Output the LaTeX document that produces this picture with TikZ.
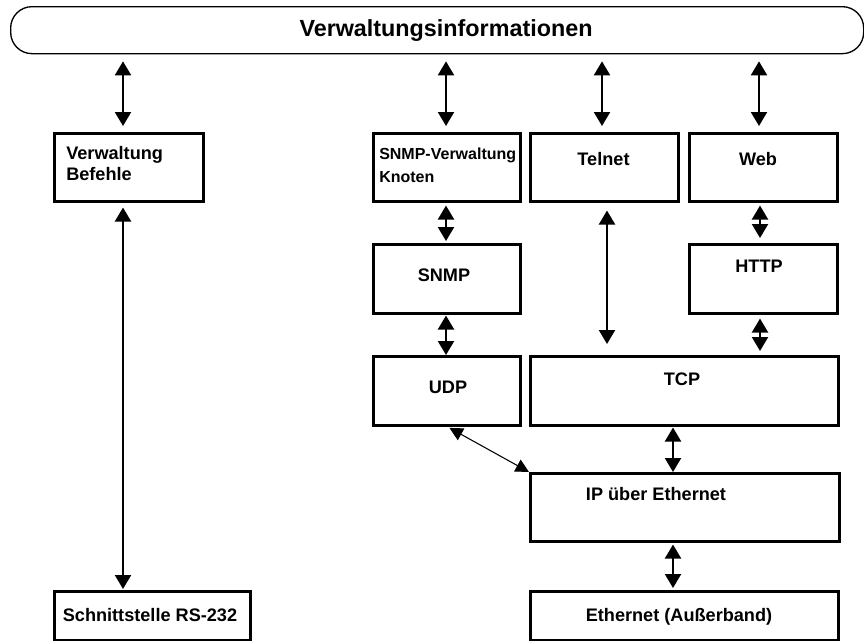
\documentclass[tikz,border=0pt]{standalone}
\usepackage{fontspec}
\setmainfont{Liberation Sans}
\usetikzlibrary{arrows.meta,calc}

\tikzset{
  layer/.style={draw, line width=1.9pt, inner sep=0pt, anchor=north west},
  bi/.style={line width=1.6pt,
    {Triangle[length=10.5pt,width=12pt]}-{Triangle[length=10.5pt,width=12pt]}},
  thinbi/.style={line width=0.8pt,
    {Triangle[length=10pt,width=10pt]}-{Triangle[length=10pt,width=10pt]}},
  txt/.style={font=\fontsize{13.6}{15.75}\selectfont\bfseries, inner sep=0pt, anchor=base},
  smalltxt/.style={font=\fontsize{12}{17.25}\selectfont\bfseries, inner sep=0pt},
  titletxt/.style={font=\fontsize{17.5}{20}\selectfont\bfseries, inner sep=0pt, anchor=base},
}
% box given by its corners in pixel units
\newcommand\layerbox[5]{%
  \node[layer, minimum width={(#4-#2)*0.75pt}, minimum height={(#5-#3)*0.75pt}] (#1) at (#2,#3) {};}

\begin{document}
\begin{tikzpicture}[x=0.75pt, y=-0.75pt]
\useasboundingbox (0,0) rectangle (864,640);

% top bar
\node[draw, line width=1pt, rounded corners=16pt, inner sep=0pt, anchor=north west,
      minimum width={853*0.75pt}, minimum height={47*0.75pt}] (bar) at (10,6) {};
\node[titletxt] (bar-t) at (446,36) {Verwaltungsinformationen};

% protocol boxes
\layerbox{vb}{53}{132}{202}{200}
\layerbox{snmpv}{372}{132}{519}{200}
\layerbox{telnet}{529}{132}{677}{200}
\layerbox{web}{688}{132}{836}{200}
\layerbox{snmp}{372}{243}{519}{312}
\layerbox{http}{688}{243}{836}{312}
\layerbox{udp}{372}{355}{519}{424}
\layerbox{tcp}{529}{355}{837}{424}
\layerbox{ip}{529}{472}{838}{540}
\layerbox{eth}{529}{590}{837}{639}
\layerbox{rs}{53}{590}{249}{639}

% labels
\node[txt, align=left, anchor=north west] (vb-t) at (66,146) {Verwaltung\\Befehle};
\node[smalltxt, align=left, anchor=north west] (snmpv-t) at (379,148) {SNMP-Verwaltung\\Knoten};
\node[txt] (telnet-t) at (603.5,165.5) {Telnet};
\node[txt] (web-t) at (758,165.5) {Web};
\node[txt] (snmp-t) at (444,281.5) {SNMP};
\node[txt] (http-t) at (759,272.5) {HTTP};
\node[txt] (udp-t) at (448,393.5) {UDP};
\node[txt] (tcp-t) at (682,385.5) {TCP};
\node[txt] (ip-t) at (656,500.5) {IP über Ethernet};
\node[txt] (eth-t) at (679,621.5) {Ethernet (Außerband)};
\node[txt] (rs-t) at (150,621.5) {Schnittstelle RS-232};

% connectors from the bar
\draw[bi, shorten <=5.25pt, shorten >=4.5pt] (123,0 |- bar.south) -- (123,0 |- vb.north);
\draw[bi, shorten <=5.25pt, shorten >=4.5pt] (446,0 |- bar.south) -- (446,0 |- snmpv.north);
\draw[bi, shorten <=5.25pt, shorten >=4.5pt] (602,0 |- bar.south) -- (602,0 |- telnet.north);
\draw[bi, shorten <=5.25pt, shorten >=4.5pt] (759,0 |- bar.south) -- (759,0 |- web.north);

% connectors between layers
\draw[bi, shorten <=2.25pt, shorten >=1.5pt] (446,0 |- snmpv.south) -- (446,0 |- snmp.north);
\draw[bi, shorten <=2.25pt, shorten >=3.75pt] (760,0 |- web.south) -- (760,0 |- http.north);
\draw[bi, shorten <=6pt, shorten >=8.25pt] (607,0 |- telnet.south) -- (607,0 |- tcp.north);
\draw[bi, shorten <=0.75pt] (446,0 |- snmp.south) -- (446,0 |- udp.north);
\draw[bi, shorten <=3pt, shorten >=3pt] (760,0 |- http.south) -- (760,0 |- tcp.north);
\draw[bi, shorten <=0.75pt] (673,0 |- tcp.south) -- (673,0 |- ip.north);
\draw[bi, shorten <=1.5pt, shorten >=1.5pt] (673,0 |- ip.south) -- (673,0 |- eth.north);
\draw[bi, shorten <=3.75pt, shorten >=0.75pt] (123,0 |- vb.south) -- (123,0 |- rs.north);
\draw[thinbi] ([xshift=2pt, yshift=-1pt]udp.south) -- (ip.north west);
\end{tikzpicture}
\end{document}
